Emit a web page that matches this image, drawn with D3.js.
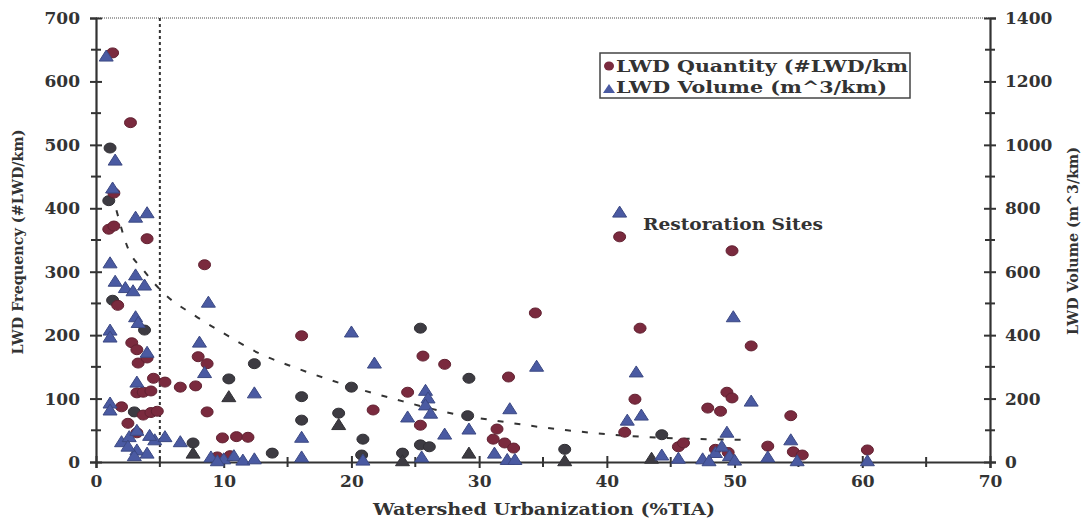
<!DOCTYPE html>
<html>
<head>
<meta charset="utf-8">
<script src="https://cdn.jsdelivr.net/npm/d3@7"></script>
<style>
  body { margin: 0; background: #fff; }
  text { font-family: "DejaVu Serif", serif; font-weight: bold; fill: #333; }
</style>
</head>
<body>
<div class="chart"></div>
<script>
// tick labels
const xTicks = [0, 10, 20, 30, 40, 50, 60, 70];
const xMinor = [5, 15, 25, 35, 45, 55, 65];
const leftTicks = [0, 100, 200, 300, 400, 500, 600, 700];
const leftMinor = [50, 150, 250, 350, 450, 550, 650];
const rightTicks = [0, 200, 400, 600, 800, 1000, 1200, 1400];
const rightMinor = [100, 300, 500, 700, 900, 1100, 1300];

// LWD quantity (#LWD/km), [%TIA, value]
const qtyMaroon = [
  [1.3, 645], [2.7, 535], [1.4, 424], [1.0, 367], [1.4, 372], [4.0, 352],
  [8.5, 311], [1.7, 247], [2.8, 188], [3.2, 177], [3.3, 156], [4.0, 164],
  [4.5, 132], [5.4, 126], [6.6, 118], [7.8, 120], [3.2, 109], [3.7, 110],
  [4.3, 112], [2.0, 87], [3.7, 74], [4.3, 78], [4.8, 80], [2.5, 61], [3.2, 46],
  [8.0, 166], [8.7, 155], [8.7, 79], [9.9, 38], [11.0, 40], [11.9, 39],
  [9.5, 8], [10.5, 10], [16.1, 199], [34.4, 235], [25.6, 167], [27.3, 154],
  [32.3, 134], [24.4, 110], [21.7, 82], [25.4, 58], [31.4, 52], [31.1, 36],
  [32.0, 30], [32.7, 22], [49.8, 333], [51.3, 183], [42.6, 211], [42.2, 99],
  [41.4, 47], [49.4, 110], [49.8, 101], [47.9, 85], [48.9, 80], [45.6, 24],
  [46.0, 30], [52.6, 25], [54.4, 73], [54.6, 16], [55.3, 11], [60.4, 19],
  [48.5, 20], [49.5, 15]
];
const qtyGray = [
  [1.1, 495], [1.0, 412], [1.3, 255], [3.8, 208], [3.0, 79], [7.6, 30],
  [10.4, 131], [12.4, 155], [16.1, 103], [16.1, 66], [19.0, 77], [20.0, 118],
  [13.8, 14], [25.4, 211], [29.2, 132], [29.1, 73], [20.9, 36], [20.8, 11],
  [24.0, 14], [25.4, 27], [26.1, 24], [36.7, 20], [44.3, 43]
];

// LWD volume (m^3/km), [%TIA, value]
const volBlue = [
  [0.8, 1280], [1.5, 952], [1.3, 864], [3.1, 772], [4.0, 786], [1.1, 628],
  [3.1, 590], [3.8, 558], [1.5, 570], [2.3, 550], [2.9, 540], [3.1, 458],
  [3.3, 440], [1.1, 416], [1.1, 394], [4.0, 346], [3.2, 252], [1.1, 186],
  [1.1, 164], [2.0, 64], [2.6, 80], [3.2, 38], [4.0, 28], [4.6, 70], [5.4, 80],
  [6.6, 64], [3.2, 100], [3.0, 20], [2.5, 50], [4.2, 84], [8.8, 504],
  [8.1, 378], [8.5, 282], [12.4, 218], [16.1, 78], [16.1, 16], [20.0, 410],
  [21.8, 312], [34.5, 302], [25.8, 226], [26.0, 202], [25.8, 180], [26.2, 154],
  [24.4, 142], [27.3, 88], [29.2, 104], [32.4, 168], [31.2, 28], [32.2, 8],
  [32.8, 8], [20.9, 6], [25.5, 16], [42.3, 284], [42.7, 148], [41.6, 132],
  [49.9, 458], [51.3, 192], [49.4, 94], [44.3, 22], [45.6, 12], [54.4, 70],
  [54.9, 4], [60.4, 4], [52.6, 16], [9.0, 16], [10.0, 10], [10.8, 20],
  [11.5, 6], [9.5, 4], [12.4, 10], [47.5, 10], [48.5, 30], [49.0, 50],
  [49.6, 20], [48.0, 4], [50.0, 6]
];
const volGray = [
  [10.4, 206], [19.0, 118], [29.2, 28], [7.6, 28], [36.7, 4], [43.5, 12], [24.0, 4]
];

// dashed trend curve
const trendX = [1.6, 2.5, 3.7, 5.2, 7.8, 9.9, 12.7, 15.7, 19.3, 23.6, 27.3, 32.0, 36.9, 43.4, 50.7];
const trendY = [397, 337, 303, 268, 230, 204, 172, 148, 123, 98, 79, 63, 50, 39, 35];

// "Restoration Sites" markers
const restoreX = 41.0;
const restoreQty = 355;
const restoreVol = 788;

const colMaroon = "#7a2a3e", colGray = "#3d3b42", colBlue = "#4a5aa2";

const W = 1084, H = 523;
const x = d3.scaleLinear().domain([0, 70]).range([96, 990]);
const yL = d3.scaleLinear().domain([0, 700]).range([462, 18]);
const yR = d3.scaleLinear().domain([0, 1400]).range([462, 18]);

const svg = d3.select(".chart").append("svg")
    .attr("width", W).attr("height", H);

// top dotted frame line and the 5% vertical line
svg.append("line")
    .attr("x1", x(0)).attr("x2", x(70)).attr("y1", yL(700)).attr("y2", yL(700))
    .style("stroke", "#888").style("stroke-width", 1.5).style("stroke-dasharray", "1,1");
svg.append("line")
    .attr("x1", x(5)).attr("x2", x(5)).attr("y1", yL(700)).attr("y2", yL(0))
    .style("stroke", "#333").style("stroke-width", 2).style("stroke-dasharray", "3,3");

// axes
function styleAxis(g, crossKey) {
  g.select(".domain").style("stroke", "#333").style("stroke-width", 2.2);
  g.selectAll(".tick line").style("stroke", "#333").style("stroke-width", 2)
    .attr(crossKey + "1", -6).attr(crossKey + "2", 6);
  g.selectAll(".tick text").style("font-size", "17px").style("fill", "#333")
    .style("font-family", "'DejaVu Serif', serif").style("font-weight", "bold");
}

const fmt = d3.format("d");
const gLeft = svg.append("g").attr("transform", "translate(" + x(0) + ",0)")
    .call(d3.axisLeft(yL).tickValues(leftTicks).tickFormat(fmt).tickSizeOuter(0).tickSize(6).tickPadding(10));
styleAxis(gLeft, "x");
const gRight = svg.append("g").attr("transform", "translate(" + x(70) + ",0)")
    .call(d3.axisRight(yR).tickValues(rightTicks).tickFormat(fmt).tickSizeOuter(0).tickSize(6).tickPadding(9));
styleAxis(gRight, "x");
const gBottom = svg.append("g").attr("transform", "translate(0," + yL(0) + ")")
    .call(d3.axisBottom(x).tickValues(xTicks).tickFormat(fmt).tickSizeOuter(0).tickSize(6).tickPadding(7));
styleAxis(gBottom, "y");

// minor ticks
svg.selectAll(".mleft").data(leftMinor).enter().append("line")
    .attr("x1", x(0) - 5).attr("x2", x(0) + 5)
    .attr("y1", d => yL(d)).attr("y2", d => yL(d))
    .style("stroke", "#333").style("stroke-width", 2);
svg.selectAll(".mright").data(rightMinor).enter().append("line")
    .attr("x1", x(70) - 5).attr("x2", x(70) + 5)
    .attr("y1", d => yR(d)).attr("y2", d => yR(d))
    .style("stroke", "#333").style("stroke-width", 2);
svg.selectAll(".mbottom").data(xMinor).enter().append("line")
    .attr("x1", d => x(d)).attr("x2", d => x(d))
    .attr("y1", yL(0) - 5).attr("y2", yL(0) + 5)
    .style("stroke", "#333").style("stroke-width", 2);

// trend curve
const trend = trendX.map((d, i) => [d, trendY[i]]);
svg.append("path")
    .datum(trend)
    .attr("d", d3.line().x(d => x(d[0])).y(d => yL(d[1])).curve(d3.curveMonotoneX))
    .style("fill", "none").style("stroke", "#333").style("stroke-width", 2)
    .style("stroke-dasharray", "6,11");

// markers
const tri = "M0,-6L7,5L-7,5Z";
function circles(data, col) {
  svg.append("g").selectAll("ellipse").data(data).enter().append("ellipse")
      .attr("cx", d => x(d[0])).attr("cy", d => yL(d[1]))
      .attr("rx", 6).attr("ry", 5)
      .style("fill", col).style("stroke", d3.color(col).darker(0.6)).style("stroke-width", 1);
}
function triangles(data, col) {
  svg.append("g").selectAll("path").data(data).enter().append("path")
      .attr("d", tri)
      .attr("transform", d => "translate(" + x(d[0]) + "," + yR(d[1]) + ")")
      .style("fill", col).style("stroke", d3.color(col).darker(0.6)).style("stroke-width", 1);
}
circles(qtyGray, colGray);
circles(qtyMaroon, colMaroon);
triangles(volGray, colGray);
triangles(volBlue, colBlue);

// restoration sites annotation
svg.append("path").attr("d", tri)
    .attr("transform", "translate(" + x(restoreX) + "," + yR(restoreVol) + ")")
    .style("fill", colBlue).style("stroke", d3.color(colBlue).darker(0.6));
svg.append("ellipse").attr("cx", x(restoreX)).attr("cy", yL(restoreQty))
    .attr("rx", 6).attr("ry", 5)
    .style("fill", colMaroon).style("stroke", d3.color(colMaroon).darker(0.6));
svg.append("text").attr("x", 643).attr("y", 230)
    .attr("textLength", 180).attr("lengthAdjust", "spacingAndGlyphs")
    .style("font-size", "16px").text("Restoration Sites");

// legend
const lg = svg.append("g").attr("transform", "translate(600,53)");
lg.append("rect").attr("width", 310).attr("height", 45)
    .style("fill", "#fff").style("stroke", "#444").style("stroke-width", 1.5);
lg.append("ellipse").attr("cx", 9).attr("cy", 13).attr("rx", 5).attr("ry", 4.5)
    .style("fill", colMaroon);
lg.append("path").attr("d", "M0,-5L6,4L-6,4Z").attr("transform", "translate(9,36)")
    .style("fill", colBlue);
lg.append("text").attr("x", 16).attr("y", 19)
    .attr("textLength", 292).attr("lengthAdjust", "spacingAndGlyphs")
    .style("font-size", "17px").text("LWD Quantity (#LWD/km");
lg.append("text").attr("x", 16).attr("y", 40)
    .attr("textLength", 271).attr("lengthAdjust", "spacingAndGlyphs")
    .style("font-size", "17px").text("LWD Volume (m^3/km)");

// axis titles
svg.append("text").attr("x", 544).attr("y", 515).attr("text-anchor", "middle")
    .attr("textLength", 342).attr("lengthAdjust", "spacingAndGlyphs")
    .style("font-size", "16px").text("Watershed Urbanization (%TIA)");
svg.append("text").attr("transform", "translate(23,242) rotate(-90)").attr("text-anchor", "middle")
    .attr("textLength", 225).attr("lengthAdjust", "spacingAndGlyphs")
    .style("font-size", "14px").text("LWD Frequency (#LWD/km)");
svg.append("text").attr("transform", "translate(1078,241) rotate(-90)").attr("text-anchor", "middle")
    .attr("textLength", 188).attr("lengthAdjust", "spacingAndGlyphs")
    .style("font-size", "14px").text("LWD Volume (m^3/km)");
</script>
</body>
</html>
